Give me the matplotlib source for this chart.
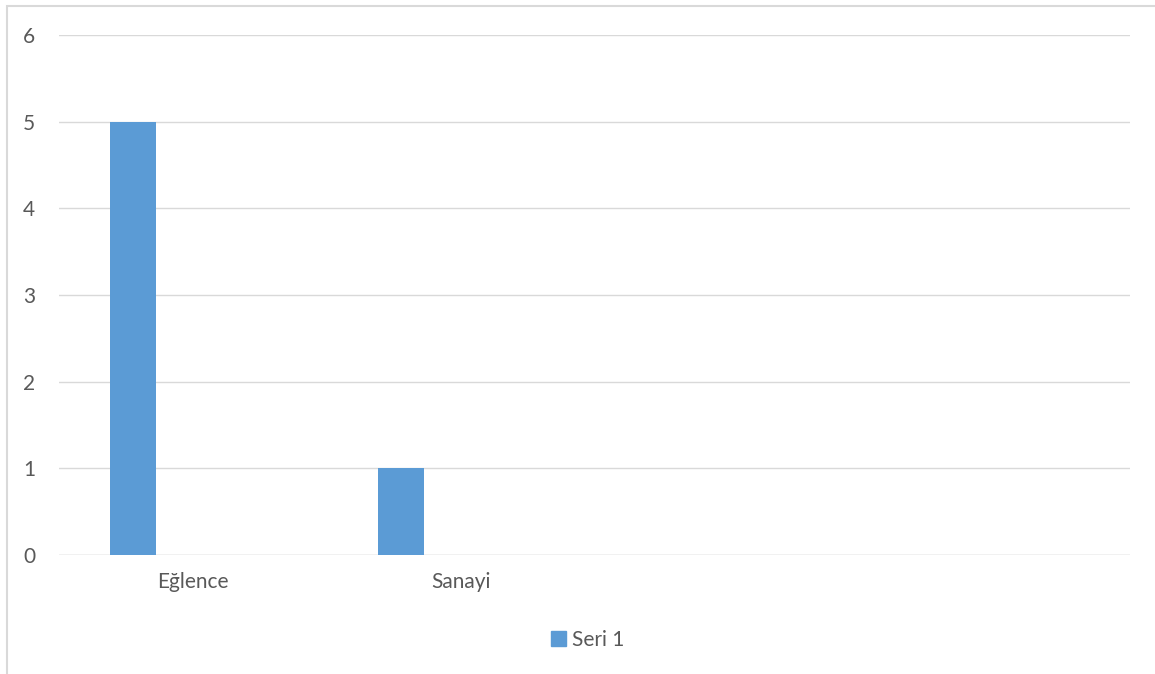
import numpy as np
import matplotlib

matplotlib.use("Agg")
import matplotlib.pyplot as plt
from matplotlib.patches import Patch, Rectangle

# category axis has four slots, only the first two carry labels/values
categories = ["Eğlence", "Sanayi", "", ""]
seri1 = [5, 1, np.nan, np.nan]
series_name = "Seri 1"
yticks = [0, 1, 2, 3, 4, 5, 6]

BAR = "#5B9BD5"
GRID = "#D9D9D9"
TEXT = "#595959"
FS = 15

plt.rcParams["font.family"] = ["Lato", "DejaVu Sans"]

W, H = 1155, 674
fig = plt.figure(figsize=(W / 100, H / 100), dpi=100)
ax = fig.add_axes([59 / W, 1 - 555 / H, (1130 - 59) / W, (555 - 35) / H])

x = np.arange(len(categories))
# first series of a clustered group sits left of the category centre
ax.bar(x - 0.224, seri1, width=0.172, color=BAR, zorder=3)

ax.set_xlim(-0.5, len(categories) - 0.5)
ax.set_ylim(0, 6)
ax.set_yticks(yticks)
ax.set_xticks(x, categories)
ax.yaxis.grid(True, color=GRID, linewidth=1.0, zorder=0)
for s in ax.spines.values():
    s.set_visible(False)
ax.axhline(0, color=GRID, linewidth=1.0, zorder=2)
ax.tick_params(axis="y", length=0, pad=17, labelsize=FS, labelcolor=TEXT)
ax.tick_params(axis="x", length=0, pad=12, labelsize=FS, labelcolor=TEXT)

# chart area frame
fig.patches.append(Rectangle((7 / W, -0.2), 1.2, (H - 6) / H + 0.2,
                             transform=fig.transFigure, fill=False,
                             edgecolor=GRID, linewidth=1.5, zorder=0))

fig.legend(handles=[Patch(color=BAR, label=series_name)],
           loc="center", bbox_to_anchor=(588 / W, 1 - 640 / H),
           frameon=False, fontsize=FS, labelcolor=TEXT,
           handlelength=0.7, handleheight=0.7, handletextpad=0.3)

fig.savefig("out.png", dpi=100)
